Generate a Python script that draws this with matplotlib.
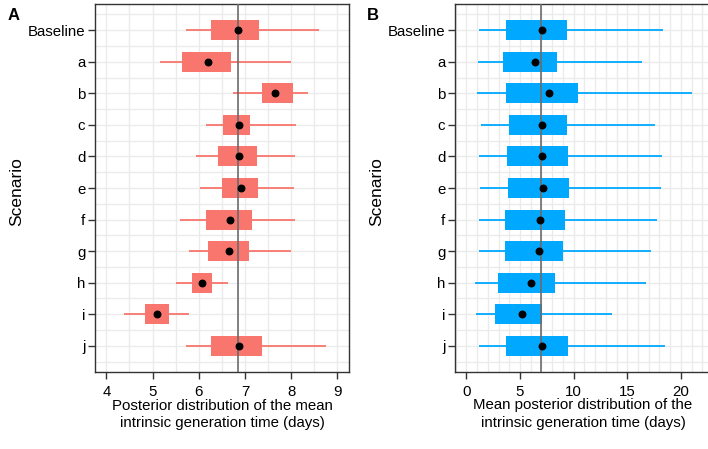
import numpy as np
import matplotlib.pyplot as plt

plt.rcParams['font.family'] = ['Liberation Sans', 'DejaVu Sans']

scenarios = ["Baseline", "a", "b", "c", "d", "e", "f", "g", "h", "i", "j"]

# panel A: posterior of the mean generation time
a_lo = [5.72, 5.16, 6.73, 6.16, 5.95, 6.02, 5.59, 5.78, 5.51, 4.38, 5.73]
a_q1 = [6.27, 5.64, 7.36, 6.53, 6.42, 6.50, 6.16, 6.19, 5.86, 4.84, 6.27]
a_mid = [6.84, 6.20, 7.65, 6.87, 6.86, 6.92, 6.68, 6.66, 6.07, 5.09, 6.88]
a_q3 = [7.31, 6.69, 8.03, 7.11, 7.26, 7.29, 7.16, 7.08, 6.28, 5.35, 7.36]
a_hi = [8.60, 7.99, 8.36, 8.11, 8.08, 8.07, 8.08, 7.99, 6.63, 5.79, 8.75]
a_ref = 6.84

# panel B: mean posterior distribution of the generation time
b_lo = [1.15, 1.06, 1.00, 1.40, 1.18, 1.24, 1.15, 1.18, 0.81, 0.87, 1.15]
b_q1 = [3.67, 3.39, 3.73, 3.98, 3.76, 3.86, 3.58, 3.58, 2.95, 2.71, 3.67]
b_mid = [7.03, 6.35, 7.68, 7.09, 7.06, 7.15, 6.84, 6.75, 6.07, 5.23, 7.06]
b_q3 = [9.42, 8.49, 10.36, 9.42, 9.46, 9.55, 9.18, 8.99, 8.24, 7.03, 9.49]
b_hi = [18.35, 16.33, 21.06, 17.54, 18.20, 18.16, 17.79, 17.20, 16.70, 13.53, 18.51]
b_ref = 7.0

W, H = 708, 449
fig = plt.figure(figsize=(W / 100, H / 100), dpi=100)


def panel(rect, lo, q1, mid, q3, hi, ref, color, xlim, xticks, minor_step, xlabel):
    ax = fig.add_axes(rect)
    y = np.arange(len(scenarios))
    # grid
    for gx in np.arange(xlim[0] - xlim[0] % minor_step, xlim[1] + minor_step, minor_step):
        ax.axvline(gx, color='#EBEBEB', lw=1.0, zorder=0)
    for gy in np.arange(-0.5, len(scenarios) + 0.5, 0.5):
        ax.axhline(gy, color='#EBEBEB', lw=1.0, zorder=0)
    ax.hlines(y, lo, hi, color=color, lw=1.3, zorder=2)
    ax.barh(y, np.array(q3) - np.array(q1), left=q1, height=0.63, color=color, zorder=3)
    ax.axvline(ref, color='#6b6b6b', lw=1.2, zorder=4)
    ax.scatter(mid, y, s=22, color='black', zorder=5)
    ax.set_xlim(*xlim)
    ax.set_ylim(len(scenarios) - 1 + 0.83, -0.83)
    ax.set_yticks(y)
    ax.set_yticklabels(scenarios, fontsize=10.8)
    ax.set_xticks(xticks)
    ax.set_xticklabels([str(t) for t in xticks], fontsize=10.8)
    ax.tick_params(length=5, width=1, color='#333333', pad=2)
    ax.tick_params(axis='x', pad=4)
    for s in ax.spines.values():
        s.set_color('#333333')
        s.set_linewidth(1.0)
    ax.set_xlabel(xlabel, fontsize=10.8, linespacing=1.3, labelpad=0)
    return ax


axA = panel([95 / W, 1 - 372 / H, 254 / W, 368 / H], a_lo, a_q1, a_mid, a_q3, a_hi,
            a_ref, '#F8766D', (3.755, 9.25), [4, 5, 6, 7, 8, 9], 0.5,
            "Posterior distribution of the mean\nintrinsic generation time (days)")
axB = panel([455 / W, 1 - 372 / H, 256 / W, 368 / H], b_lo, b_q1, b_mid, b_q3, b_hi,
            b_ref, '#00A9FF', (-1.06, 22.8), [0, 5, 10, 15, 20], 1.0,
            "Mean posterior distribution of the\nintrinsic generation time (days)")

fig.text(17 / W, 1 - 192 / H, "Scenario", rotation=90, ha='center', va='center', fontsize=12.5)
fig.text(377 / W, 1 - 192 / H, "Scenario", rotation=90, ha='center', va='center', fontsize=12.5)
fig.text(8 / W, 1 - 15 / H, "A", fontsize=12, fontweight='bold', ha='left', va='center')
fig.text(367 / W, 1 - 15 / H, "B", fontsize=12, fontweight='bold', ha='left', va='center')

fig.savefig("out.png", dpi=100)
